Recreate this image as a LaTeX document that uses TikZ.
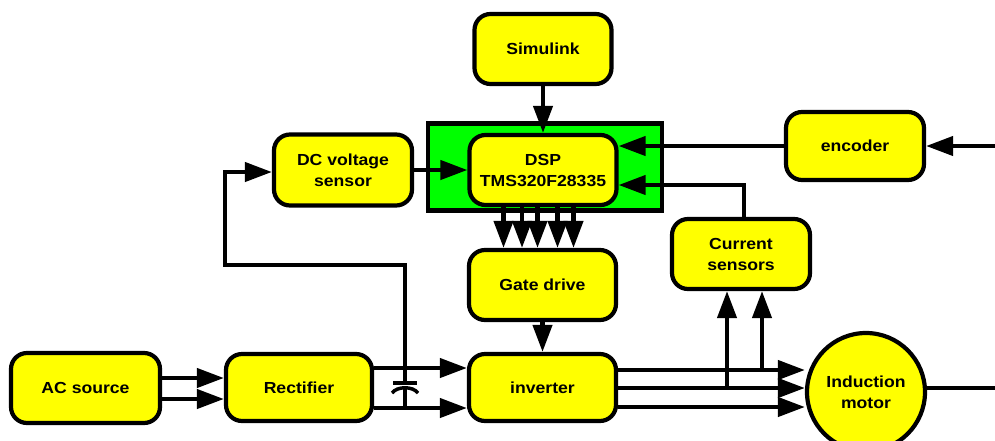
\documentclass[tikz,border=0pt]{standalone}
\usepackage{fontspec}
\setmainfont{Liberation Sans}[FakeStretch=1.1]
\usetikzlibrary{arrows.meta}
\definecolor{boxyellow}{RGB}{255,255,0}
\definecolor{dspgreen}{RGB}{0,255,0}
\begin{document}
\begin{tikzpicture}[x=1pt,y=-1pt,
  box/.style={draw, line width=4.2pt, fill=boxyellow, rounded corners=16pt,
    minimum width=146pt, minimum height=68pt, inner sep=0pt, align=center,
    font=\fontsize{16}{21}\selectfont\bfseries},
  ln/.style={line width=4.2pt},
  arr/.style={line width=4.2pt, -{Triangle[length=27pt,width=19pt]}}]
\useasboundingbox (0,0) rectangle (995,440);
% green DSP frame
\node[draw, line width=4.2pt, fill=dspgreen, minimum width=234pt, minimum height=87pt, inner sep=0pt] (frame) at (545,167) {};
\node[box, minimum width=137pt, minimum height=70pt] (sim) at (543,49) {Simulink};
\node[box, minimum width=147pt, minimum height=70pt] (dsp) at (543,170) {DSP\\TMS320F28335};
\node[box, minimum width=138pt, minimum height=71pt] (dcv) at (343,170) {DC voltage\\sensor};
\node[box, minimum width=138pt, minimum height=68pt] (enc) at (855,146) {encoder};
\node[box, minimum width=138pt, minimum height=70pt] (cur) at (741,254) {Current\\sensors};
\node[box, minimum width=147pt, minimum height=70pt] (gate) at (542.5,285) {Gate drive};
\node[box, minimum width=147pt, minimum height=67pt] (inv) at (542.5,387.5) {inverter};
\node[box, minimum width=146pt, minimum height=67pt] (rect) at (299,387.5) {Rectifier};
\node[box, minimum width=149pt, minimum height=70pt] (ac) at (85.5,388) {AC source};
\node[draw, line width=4.2pt, fill=boxyellow, circle, minimum size=118pt, inner sep=0pt, align=center,
  font=\fontsize{16}{21}\selectfont\bfseries] (mot) at (866,392) {Induction\\motor};

% Simulink -> DSP
\draw[arr] (sim.south) -- (sim.south |- dsp.north);
% DC voltage sensor -> DSP
\draw[arr] (dcv.east) -- (dsp.west);
% encoder -> DSP
\draw[arr] (enc.west) -- (dsp.east |- enc.west);
\coordinate (encin) at (995,146);
\draw[arr] (encin) -- (enc.east);
% current sensors -> DSP
\draw[arr] ([xshift=3pt]cur.north) |- ([yshift=-15pt]dsp.east);
% DSP -> gate drive (5 lines)
\foreach \dx in {-39.5,-21,-5.5,14.5,30.5}
  \draw[arr] ([xshift=\dx pt]dsp.south) -- ([xshift=\dx pt]dsp.south |- gate.north);
% gate -> inverter
\draw[arr] (gate.south) -- (inv.north);
% AC -> rectifier
\draw[arr] ([yshift=10pt]ac.east) coordinate (a1) -- (a1 -| rect.west);
\draw[arr] ([yshift=-11pt]ac.east) coordinate (a2) -- (a2 -| rect.west);
% rectifier -> inverter
\draw[arr] ([yshift=19.5pt]rect.east) coordinate (r1) -- (r1 -| inv.west);
\draw[arr] ([yshift=-20.5pt]rect.east) coordinate (r2) -- (r2 -| inv.west);
% capacitor and DC voltage feedback
\coordinate (capA) at (405,383);
\coordinate (capB) at (405,389);
\coordinate (fb1) at (405,265);
\coordinate (fb2) at (225,265);
\draw[line width=3.5pt] (393,383) -- (417,383);
\draw[line width=3.5pt] (392,393) .. controls (397,386) and (413,386) .. (418,393);
\draw[ln] (capB) -- (capB |- r2);
\draw[arr] (capA) -- (fb1) -- (fb2) |- ([yshift=-2pt]dcv.west);
% inverter -> motor
\draw[arr] ([yshift=17.5pt]inv.east) coordinate (o1) -- (o1 -| mot.west);
\draw[arr] ([yshift=-0.5pt]inv.east) coordinate (o2) -- (o2 -| mot.west);
\draw[arr] ([yshift=-19.5pt]inv.east) coordinate (o3) -- (o3 -| mot.west);
% current taps
\coordinate (t1) at (727,388);
\coordinate (t2) at (762,370);
\draw[arr] (t1) -- (t1 |- cur.south);
\draw[arr] (t2) -- (t2 |- cur.south);
% motor shaft
\coordinate (shaft) at (995,388);
\draw[ln] (mot.east |- shaft) -- (shaft);
\end{tikzpicture}
\end{document}
